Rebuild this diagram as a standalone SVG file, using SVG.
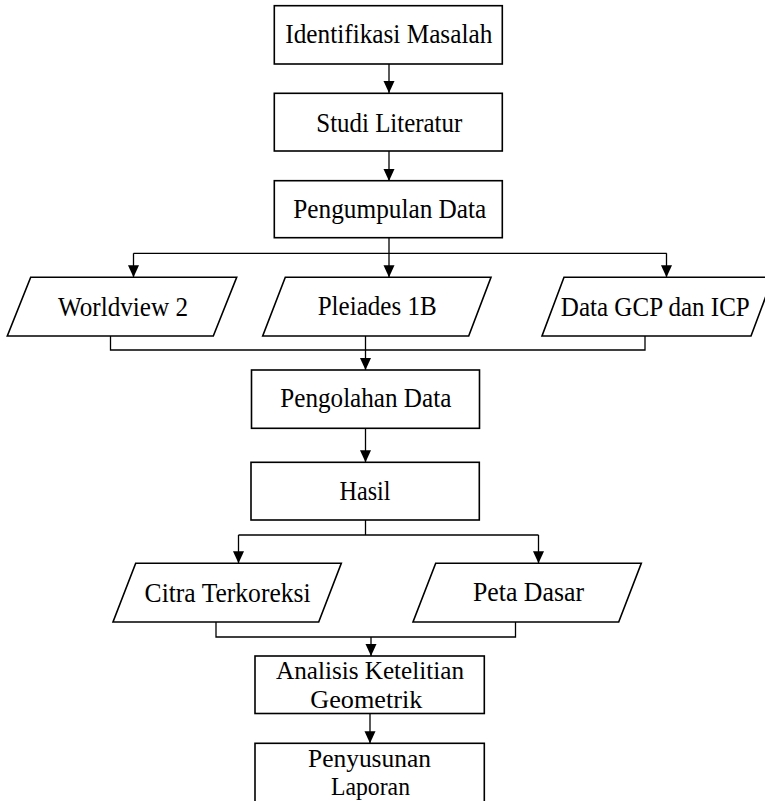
<svg xmlns="http://www.w3.org/2000/svg" width="765" height="801" viewBox="0 0 765 801">
<style>
.shape{fill:#fff;stroke:#000;stroke-width:1.6}
.ln{fill:none;stroke:#000;stroke-width:1.3}
.t{font-family:"Liberation Serif","Times New Roman",serif;font-size:27px;fill:#000;text-anchor:middle}
.s{font-size:24.5px}
</style>
<defs>
<marker id="ah" markerUnits="userSpaceOnUse" markerWidth="12" markerHeight="12" viewBox="0 0 12 12" refX="12" refY="6" orient="auto">
<path d="M0,0.5 L12,6 L0,11.5 z" fill="#000"/>
</marker>
</defs>
<rect width="765" height="801" fill="#fff"/>
<g id="connectors">
<line class="ln" x1="389" y1="64" x2="389" y2="93" marker-end="url(#ah)"/>
<line class="ln" x1="389" y1="151" x2="389" y2="181" marker-end="url(#ah)"/>
<line class="ln" x1="389" y1="238" x2="389" y2="253.3"/>
<line class="ln" x1="133.5" y1="253.3" x2="666.7" y2="253.3"/>
<line class="ln" x1="133.5" y1="253.3" x2="133.5" y2="277.3" marker-end="url(#ah)"/>
<line class="ln" x1="389" y1="253.3" x2="389" y2="277.3" marker-end="url(#ah)"/>
<line class="ln" x1="666.5" y1="253.3" x2="666.5" y2="277.3" marker-end="url(#ah)"/>
<polyline class="ln" points="110.5,336 110.5,350 645,350 645,336"/>
<line class="ln" x1="365.5" y1="336" x2="365.5" y2="370" marker-end="url(#ah)"/>
<line class="ln" x1="365.5" y1="428.3" x2="365.5" y2="462.3" marker-end="url(#ah)"/>
<line class="ln" x1="365.5" y1="520" x2="365.5" y2="535"/>
<line class="ln" x1="238.5" y1="535" x2="538.5" y2="535"/>
<line class="ln" x1="238.5" y1="535" x2="238.5" y2="563.3" marker-end="url(#ah)"/>
<line class="ln" x1="538.5" y1="535" x2="538.5" y2="563.3" marker-end="url(#ah)"/>
<polyline class="ln" points="216,622 216,637 515.5,637 515.5,622"/>
<line class="ln" x1="371" y1="637" x2="371" y2="656" marker-end="url(#ah)"/>
<line class="ln" x1="370" y1="713.5" x2="370" y2="743.3" marker-end="url(#ah)"/>
</g>
<g id="n1"><rect class="shape" x="274.3" y="5.7" width="228" height="58.3"/><text class="t" x="388.8" y="43.3" textLength="207" lengthAdjust="spacingAndGlyphs">Identifikasi Masalah</text></g>
<g id="n2"><rect class="shape" x="274.3" y="93.3" width="228" height="57.7"/><text class="t" x="389.3" y="131.7" textLength="146" lengthAdjust="spacingAndGlyphs">Studi Literatur</text></g>
<g id="n3"><rect class="shape" x="274.3" y="180.7" width="228" height="57"/><text class="t" x="389.8" y="218.3" textLength="193" lengthAdjust="spacingAndGlyphs">Pengumpulan Data</text></g>
<g id="n4"><polygon class="shape" points="30.7,277.3 236.7,277.3 213.3,336 7.3,336"/><text class="t" x="123" y="316" textLength="130" lengthAdjust="spacingAndGlyphs">Worldview 2</text></g>
<g id="n5"><polygon class="shape" points="285.3,277.3 491,277.3 468.7,336 262.7,336"/><text class="t" x="377.2" y="315" textLength="119" lengthAdjust="spacingAndGlyphs">Pleiades 1B</text></g>
<g id="n6"><polygon class="shape" points="564,277.3 773,277.3 751,336 542,336"/><text class="t" x="655.3" y="316" textLength="189" lengthAdjust="spacingAndGlyphs">Data GCP dan ICP</text></g>
<g id="n7"><rect class="shape" x="251.5" y="370" width="228" height="58.3"/><text class="t" x="365.8" y="407.3" textLength="171" lengthAdjust="spacingAndGlyphs">Pengolahan Data</text></g>
<g id="n8"><rect class="shape" x="251" y="462.3" width="228.3" height="57.7"/><text class="t" x="365" y="500" textLength="51" lengthAdjust="spacingAndGlyphs">Hasil</text></g>
<g id="n9"><polygon class="shape" points="135.7,563.3 341.3,563.3 318.7,622 113,622"/><text class="t" x="227.6" y="601.7" textLength="166" lengthAdjust="spacingAndGlyphs">Citra Terkoreksi</text></g>
<g id="n10"><polygon class="shape" points="435.7,563.3 641.3,563.3 618.7,622 413,622"/><text class="t" x="528.5" y="601.3" textLength="111" lengthAdjust="spacingAndGlyphs">Peta Dasar</text></g>
<g id="n11"><rect class="shape" x="255" y="656" width="229.3" height="57.5"/><text class="t s" x="370" y="679.3" textLength="188" lengthAdjust="spacingAndGlyphs">Analisis Ketelitian</text><text class="t s" x="366.3" y="708" textLength="112" lengthAdjust="spacingAndGlyphs">Geometrik</text></g>
<g id="n12"><rect class="shape" x="255" y="743.3" width="229.3" height="70"/><text class="t s" x="369.5" y="767" textLength="123" lengthAdjust="spacingAndGlyphs">Penyusunan</text><text class="t s" x="370.5" y="795" textLength="79" lengthAdjust="spacingAndGlyphs">Laporan</text></g>
</svg>
